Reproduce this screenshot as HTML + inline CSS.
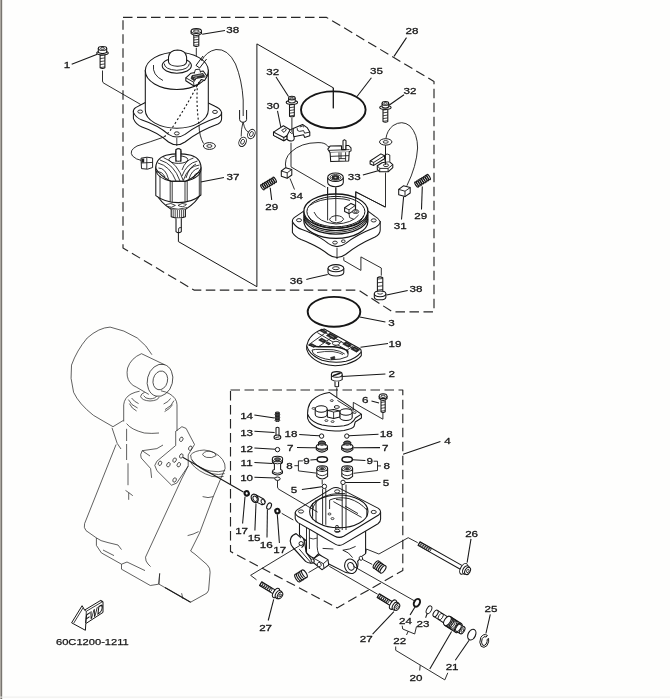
<!DOCTYPE html>
<html><head><meta charset="utf-8"><title>Diagram</title>
<style>html,body{margin:0;padding:0;background:#fefefd;}svg{display:block;font-family:"Liberation Sans",sans-serif;}</style></head>
<body><svg width="670" height="699" viewBox="0 0 670 699" stroke-linecap="butt" stroke-linejoin="round">
<rect x="0" y="0" width="670" height="699" fill="#fefefd"/>
<rect x="0" y="0" width="1" height="699" fill="#aba7a0"/>
<rect x="1" y="0" width="1" height="699" fill="#787570"/>
<rect x="2" y="0" width="1" height="699" fill="#e6e5e1"/>
<rect x="0" y="696.6" width="670" height="1" fill="#ededeb"/>
<g style="opacity:0.999">
<path d="M151.9,354.7 Q147,345.6 137.3,338 Q124,329.6 110.1,327.1 Q99,327.6 87.2,338 Q76.7,350.5 71.5,365.1 Q69.6,378 73.6,392.3 Q79,404 93.4,415.3 Q103,421 113,426.7" fill="none" stroke="#1c1c1c" stroke-width="0.7" />
<ellipse cx="160.0" cy="380.3" rx="12.6" ry="16.3" fill="none" stroke="#1c1c1c" stroke-width="0.7" transform="rotate(14 160.0 380.3)"/>
<ellipse cx="160.3" cy="380.4" rx="7.2" ry="9.5" fill="none" stroke="#1c1c1c" stroke-width="0.7" transform="rotate(14 160.3 380.4)"/>
<path d="M141.5,353.7 L164.5,364.7 M141.5,353.7 Q131,358 127.6,368 Q125.8,377 130,382.5 Q133,386 136.3,387.1 L148.8,394.4" fill="none" stroke="#1c1c1c" stroke-width="0.7" />
<path d="M140.6,396.5 Q142,400.6 150,401 Q158,400.6 159.2,397 M143.6,395.6 Q145,398.6 150,398.9 Q155.4,398.6 156.6,396 M140.6,396.5 Q141,393.6 144.6,392.4" fill="none" stroke="#1c1c1c" stroke-width="0.7" />
<path d="M123.7,404.8 Q124.4,397.6 131,394 Q135,392 139.6,391.2 M161,390.8 Q170.6,392.6 175,398.6 Q177,401.6 177,404.8" fill="none" stroke="#1c1c1c" stroke-width="0.7" />
<path d="M128.4,399.6 Q131,405.4 137.6,408 M129.4,403.6 Q131.6,408.6 136.6,411 M131.6,398 Q134,401.6 138.6,403.6 M174,400.6 Q172,406 165,409.6 M172.6,404.6 Q170,409 164.6,411.6 M170.6,398.4 Q168.6,402 163.6,404" fill="none" stroke="#1c1c1c" stroke-width="0.7" />
<path d="M123.7,404.8 V421.5 M126.6,423.6 Q131,429.6 144.3,433 Q152,433.8 159,433 M177,404.8 V431" fill="none" stroke="#1c1c1c" stroke-width="0.7" />
<path d="M126.6,428.8 V441 M126.6,444 V460 M128,463.3 V485.2 M125.5,490.4 L128.7,492.6 V499.8 M128.7,492.6 L132.8,495.7" fill="none" stroke="#1c1c1c" stroke-width="0.7" />
<path d="M176.1,431 L181.9,426.7 L186.1,428.4 L194.5,444.5 L188.2,454.9 L188.2,466 L176.7,483.1 L171.5,485.2 L156.9,470.6 L154.8,465.4 L156.9,461.2 L175.7,445.5 V431" fill="none" stroke="#1c1c1c" stroke-width="0.7" />
<ellipse cx="181.3" cy="439.3" rx="1.6" ry="2.3" fill="none" stroke="#1c1c1c" stroke-width="0.7" transform="rotate(25 181.3 439.3)"/>
<ellipse cx="190.3" cy="448.2" rx="1.6" ry="2.3" fill="none" stroke="#1c1c1c" stroke-width="0.7" transform="rotate(25 190.3 448.2)"/>
<ellipse cx="181.3" cy="456.0" rx="1.6" ry="2.3" fill="none" stroke="#1c1c1c" stroke-width="0.7" transform="rotate(25 181.3 456.0)"/>
<ellipse cx="174.6" cy="460.1" rx="1.6" ry="2.3" fill="none" stroke="#1c1c1c" stroke-width="0.7" transform="rotate(25 174.6 460.1)"/>
<ellipse cx="168.4" cy="464.7" rx="1.6" ry="2.3" fill="none" stroke="#1c1c1c" stroke-width="0.7" transform="rotate(25 168.4 464.7)"/>
<ellipse cx="160.0" cy="463.3" rx="1.6" ry="2.3" fill="none" stroke="#1c1c1c" stroke-width="0.7" transform="rotate(25 160.0 463.3)"/>
<ellipse cx="178.8" cy="464.7" rx="1.6" ry="2.3" fill="none" stroke="#1c1c1c" stroke-width="0.7" transform="rotate(25 178.8 464.7)"/>
<ellipse cx="174.6" cy="480.0" rx="1.6" ry="2.3" fill="none" stroke="#1c1c1c" stroke-width="0.7" transform="rotate(25 174.6 480.0)"/>
<path d="M113,426.7 L123.4,420.4 M112,427.8 L117.2,443.4 L121,449 M116.1,444.5 L84.6,523.6 Q83.4,527.6 86,530.6 L96.4,537.9 V545.4 L101.4,552.9 L121.5,564.2 V569.2 L150.3,585.5 L158.6,584.2 L159.7,573.4" fill="none" stroke="#1c1c1c" stroke-width="0.7" />
<path d="M96.4,537.9 Q100,541 108,542.6 L118,545 L121.5,549.6 M103,550 L114,555.6" fill="none" stroke="#1c1c1c" stroke-width="0.7" />
<path d="M121.5,564.2 L127,562 L145,570.6" fill="none" stroke="#1c1c1c" stroke-width="0.7" />
<path d="M156.9,448.6 L142.2,450.7 Q139.6,455 141.2,458 L150.6,468.5 L151.6,477.9 M142.2,450.7 L150,456 M156.9,448.6 L163,445" fill="none" stroke="#1c1c1c" stroke-width="0.7" />
<path d="M190.6,455 Q194,450.6 204.1,450 Q216,451 222.6,459.6 Q225.6,464 225.1,468.5 M190.6,455 Q190.4,458.6 193.6,462.4 Q199.6,468.6 210,471 Q219,472.6 225.1,470.6" fill="none" stroke="#1c1c1c" stroke-width="0.7" />
<path d="M191.6,459.6 Q198,468.6 211,473.6 Q219,475.4 224.6,473.6 M190.6,462.6 Q198,472 212,476.4 Q219,477.6 223.6,476.4" fill="none" stroke="#1c1c1c" stroke-width="0.7" />
<path d="M202.6,454.6 Q203.6,451.4 209,451.2 Q215,451.8 216.1,455.6 Q212,458.6 206.6,457.4 Q203.4,456.4 202.6,454.6" fill="none" stroke="#1c1c1c" stroke-width="0.7" />
<path d="M225.1,468.5 L220.6,479 L213.1,497 L199.6,533 L190.6,551 L195,554.2 L207.1,564.7 Q210.4,568 210.1,572.2 L208.6,590.2 Q207.6,593.6 204.1,594.7 L190.6,602.2" fill="none" stroke="#1c1c1c" stroke-width="0.7" />
<path d="M188.2,466 L181.6,479 L145.5,557.2 Q145.4,561.4 148,564 L150.6,566.6" fill="none" stroke="#1c1c1c" stroke-width="0.7" />
<path d="M202.6,496.6 Q208,498.6 213.4,496.6 M187.6,535.6 Q193,534.6 198.6,531.6" fill="none" stroke="#1c1c1c" stroke-width="0.7" />
<path d="M159.7,573.4 L159,584.2 L190.6,602.2 M181.6,593.2 L183,599" fill="none" stroke="#1c1c1c" stroke-width="0.7" />
<path d="M165,587.6 L190.6,602.2" fill="none" stroke="#1c1c1c" stroke-width="1.1" />
<path d="M71.6,622.8 L82.1,605.7 L84.6,610.1 L100.7,600.4 L103,601.6 V612.4 L85.8,623.6 L85.4,630.3 Z" fill="#fff" stroke="#161616" stroke-width="1.0" />
<path d="M83.1,607.8 L73.8,623 M84.6,610.1 L86.3,611.3 L101.6,602.2 L103,601.6 M101.6,602.2 L100.7,600.4 M86.3,611.3 L85.8,623.6" fill="none" stroke="#161616" stroke-width="0.85" />
<text transform="translate(84.4,623.4) skewY(-33) skewX(-8) scale(0.70,1)" font-size="11.4" font-weight="bold" fill="#161616">FWD</text>
<polygon points="123.0,17.4 326.6,17.4 434.0,81.5 434.0,311.8 392.5,311.8 358.5,290.1 194.0,290.1 123.0,248.0" fill="none" stroke="#262626" stroke-width="1.15" stroke-dasharray="9.5,4.5"/>
<polygon points="230.5,390.0 402.8,390.0 402.8,570.4 337.1,607.9 230.5,551.5" fill="none" stroke="#262626" stroke-width="1.15" stroke-dasharray="9.5,4.5"/>
<polyline points="256.9,286.7 256.9,43.9 333.3,87.8 333.3,108.3" fill="none" stroke="#161616" stroke-width="1.0"/>
<polyline points="178.4,233.0 178.4,241.6 256.9,286.7" fill="none" stroke="#161616" stroke-width="1.0"/>
<text transform="translate(67.0,68.1) scale(1.27,1)" text-anchor="middle" font-size="9.15" fill="#161616" stroke="#161616" stroke-width="0.28">1</text>
<text transform="translate(232.8,32.5) scale(1.27,1)" text-anchor="middle" font-size="9.15" fill="#161616" stroke="#161616" stroke-width="0.28">38</text>
<text transform="translate(412.0,34.1) scale(1.27,1)" text-anchor="middle" font-size="9.15" fill="#161616" stroke="#161616" stroke-width="0.28">28</text>
<text transform="translate(376.4,74.0) scale(1.27,1)" text-anchor="middle" font-size="9.15" fill="#161616" stroke="#161616" stroke-width="0.28">35</text>
<text transform="translate(410.0,94.1) scale(1.27,1)" text-anchor="middle" font-size="9.15" fill="#161616" stroke="#161616" stroke-width="0.28">32</text>
<text transform="translate(272.8,74.5) scale(1.27,1)" text-anchor="middle" font-size="9.15" fill="#161616" stroke="#161616" stroke-width="0.28">32</text>
<text transform="translate(273.0,109.0) scale(1.27,1)" text-anchor="middle" font-size="9.15" fill="#161616" stroke="#161616" stroke-width="0.28">30</text>
<text transform="translate(232.9,180.4) scale(1.27,1)" text-anchor="middle" font-size="9.15" fill="#161616" stroke="#161616" stroke-width="0.28">37</text>
<text transform="translate(271.7,209.8) scale(1.27,1)" text-anchor="middle" font-size="9.15" fill="#161616" stroke="#161616" stroke-width="0.28">29</text>
<text transform="translate(296.5,199.0) scale(1.27,1)" text-anchor="middle" font-size="9.15" fill="#161616" stroke="#161616" stroke-width="0.28">34</text>
<text transform="translate(354.3,179.6) scale(1.27,1)" text-anchor="middle" font-size="9.15" fill="#161616" stroke="#161616" stroke-width="0.28">33</text>
<text transform="translate(400.2,229.3) scale(1.27,1)" text-anchor="middle" font-size="9.15" fill="#161616" stroke="#161616" stroke-width="0.28">31</text>
<text transform="translate(420.8,219.0) scale(1.27,1)" text-anchor="middle" font-size="9.15" fill="#161616" stroke="#161616" stroke-width="0.28">29</text>
<text transform="translate(296.2,283.5) scale(1.27,1)" text-anchor="middle" font-size="9.15" fill="#161616" stroke="#161616" stroke-width="0.28">36</text>
<text transform="translate(416.0,292.0) scale(1.27,1)" text-anchor="middle" font-size="9.15" fill="#161616" stroke="#161616" stroke-width="0.28">38</text>
<text transform="translate(391.6,326.3) scale(1.27,1)" text-anchor="middle" font-size="9.15" fill="#161616" stroke="#161616" stroke-width="0.28">3</text>
<text transform="translate(395.0,346.7) scale(1.27,1)" text-anchor="middle" font-size="9.15" fill="#161616" stroke="#161616" stroke-width="0.28">19</text>
<text transform="translate(391.7,376.6) scale(1.27,1)" text-anchor="middle" font-size="9.15" fill="#161616" stroke="#161616" stroke-width="0.28">2</text>
<text transform="translate(365.3,403.2) scale(1.27,1)" text-anchor="middle" font-size="9.15" fill="#161616" stroke="#161616" stroke-width="0.28">6</text>
<text transform="translate(246.6,418.5) scale(1.27,1)" text-anchor="middle" font-size="9.15" fill="#161616" stroke="#161616" stroke-width="0.28">14</text>
<text transform="translate(246.6,435.7) scale(1.27,1)" text-anchor="middle" font-size="9.15" fill="#161616" stroke="#161616" stroke-width="0.28">13</text>
<text transform="translate(246.6,451.8) scale(1.27,1)" text-anchor="middle" font-size="9.15" fill="#161616" stroke="#161616" stroke-width="0.28">12</text>
<text transform="translate(246.6,466.0) scale(1.27,1)" text-anchor="middle" font-size="9.15" fill="#161616" stroke="#161616" stroke-width="0.28">11</text>
<text transform="translate(246.6,480.9) scale(1.27,1)" text-anchor="middle" font-size="9.15" fill="#161616" stroke="#161616" stroke-width="0.28">10</text>
<text transform="translate(291.0,436.9) scale(1.27,1)" text-anchor="middle" font-size="9.15" fill="#161616" stroke="#161616" stroke-width="0.28">18</text>
<text transform="translate(290.2,450.8) scale(1.27,1)" text-anchor="middle" font-size="9.15" fill="#161616" stroke="#161616" stroke-width="0.28">7</text>
<text transform="translate(306.6,463.7) scale(1.27,1)" text-anchor="middle" font-size="9.15" fill="#161616" stroke="#161616" stroke-width="0.28">9</text>
<text transform="translate(289.5,469.0) scale(1.27,1)" text-anchor="middle" font-size="9.15" fill="#161616" stroke="#161616" stroke-width="0.28">8</text>
<text transform="translate(294.0,492.6) scale(1.27,1)" text-anchor="middle" font-size="9.15" fill="#161616" stroke="#161616" stroke-width="0.28">5</text>
<text transform="translate(386.3,437.3) scale(1.27,1)" text-anchor="middle" font-size="9.15" fill="#161616" stroke="#161616" stroke-width="0.28">18</text>
<text transform="translate(385.2,450.8) scale(1.27,1)" text-anchor="middle" font-size="9.15" fill="#161616" stroke="#161616" stroke-width="0.28">7</text>
<text transform="translate(369.7,463.9) scale(1.27,1)" text-anchor="middle" font-size="9.15" fill="#161616" stroke="#161616" stroke-width="0.28">9</text>
<text transform="translate(386.7,469.4) scale(1.27,1)" text-anchor="middle" font-size="9.15" fill="#161616" stroke="#161616" stroke-width="0.28">8</text>
<text transform="translate(386.0,486.1) scale(1.27,1)" text-anchor="middle" font-size="9.15" fill="#161616" stroke="#161616" stroke-width="0.28">5</text>
<text transform="translate(447.5,443.7) scale(1.27,1)" text-anchor="middle" font-size="9.15" fill="#161616" stroke="#161616" stroke-width="0.28">4</text>
<text transform="translate(241.6,533.7) scale(1.27,1)" text-anchor="middle" font-size="9.15" fill="#161616" stroke="#161616" stroke-width="0.28">17</text>
<text transform="translate(254.1,540.7) scale(1.27,1)" text-anchor="middle" font-size="9.15" fill="#161616" stroke="#161616" stroke-width="0.28">15</text>
<text transform="translate(266.2,547.5) scale(1.27,1)" text-anchor="middle" font-size="9.15" fill="#161616" stroke="#161616" stroke-width="0.28">16</text>
<text transform="translate(279.7,553.0) scale(1.27,1)" text-anchor="middle" font-size="9.15" fill="#161616" stroke="#161616" stroke-width="0.28">17</text>
<text transform="translate(265.6,630.8) scale(1.27,1)" text-anchor="middle" font-size="9.15" fill="#161616" stroke="#161616" stroke-width="0.28">27</text>
<text transform="translate(366.3,641.6) scale(1.27,1)" text-anchor="middle" font-size="9.15" fill="#161616" stroke="#161616" stroke-width="0.28">27</text>
<text transform="translate(471.6,536.5) scale(1.27,1)" text-anchor="middle" font-size="9.15" fill="#161616" stroke="#161616" stroke-width="0.28">26</text>
<text transform="translate(405.5,623.5) scale(1.27,1)" text-anchor="middle" font-size="9.15" fill="#161616" stroke="#161616" stroke-width="0.28">24</text>
<text transform="translate(423.0,626.8) scale(1.27,1)" text-anchor="middle" font-size="9.15" fill="#161616" stroke="#161616" stroke-width="0.28">23</text>
<text transform="translate(399.7,643.9) scale(1.27,1)" text-anchor="middle" font-size="9.15" fill="#161616" stroke="#161616" stroke-width="0.28">22</text>
<text transform="translate(491.0,611.6) scale(1.27,1)" text-anchor="middle" font-size="9.15" fill="#161616" stroke="#161616" stroke-width="0.28">25</text>
<text transform="translate(452.1,669.9) scale(1.27,1)" text-anchor="middle" font-size="9.15" fill="#161616" stroke="#161616" stroke-width="0.28">21</text>
<text transform="translate(416.0,680.7) scale(1.27,1)" text-anchor="middle" font-size="9.15" fill="#161616" stroke="#161616" stroke-width="0.28">20</text>
<text x="56" y="645.3" font-size="8.8" textLength="72.8" lengthAdjust="spacingAndGlyphs" fill="#161616" stroke="#161616" stroke-width="0.25">60C1200-1211</text>
<polyline points="71.7,64.3 97.3,54.3" fill="none" stroke="#161616" stroke-width="1.05"/>
<polyline points="225.0,30.5 202.2,34.2" fill="none" stroke="#161616" stroke-width="1.05"/>
<polyline points="406.5,37.6 394.0,56.4" fill="none" stroke="#161616" stroke-width="1.05"/>
<polyline points="371.4,77.7 357.0,96.5" fill="none" stroke="#161616" stroke-width="1.05"/>
<polyline points="404.0,94.8 389.0,105.3" fill="none" stroke="#161616" stroke-width="1.05"/>
<polyline points="276.0,77.0 288.5,96.5" fill="none" stroke="#161616" stroke-width="1.05"/>
<polyline points="277.5,110.8 280.8,127.0" fill="none" stroke="#161616" stroke-width="1.05"/>
<polyline points="224.0,177.6 200.6,181.9" fill="none" stroke="#161616" stroke-width="1.05"/>
<polyline points="270.2,187.8 271.7,200.0" fill="none" stroke="#161616" stroke-width="1.05"/>
<polyline points="362.9,175.0 379.0,170.6" fill="none" stroke="#161616" stroke-width="1.05"/>
<polyline points="403.6,196.6 401.5,219.5" fill="none" stroke="#161616" stroke-width="1.05"/>
<polyline points="422.3,186.5 421.5,209.5" fill="none" stroke="#161616" stroke-width="1.05"/>
<polyline points="306.3,279.4 327.7,274.5" fill="none" stroke="#161616" stroke-width="1.05"/>
<polyline points="407.7,290.4 386.6,295.0" fill="none" stroke="#161616" stroke-width="1.05"/>
<polyline points="385.4,322.1 359.8,317.1" fill="none" stroke="#161616" stroke-width="1.05"/>
<polyline points="388.0,343.4 360.5,347.2" fill="none" stroke="#161616" stroke-width="1.05"/>
<polyline points="385.4,374.0 341.8,376.5" fill="none" stroke="#161616" stroke-width="1.05"/>
<polyline points="371.5,401.0 379.0,403.0" fill="none" stroke="#161616" stroke-width="1.05"/>
<polyline points="254.4,414.9 274.6,417.9" fill="none" stroke="#161616" stroke-width="1.05"/>
<polyline points="254.4,431.3 274.6,432.5" fill="none" stroke="#161616" stroke-width="1.05"/>
<polyline points="254.4,448.1 275.5,449.3" fill="none" stroke="#161616" stroke-width="1.05"/>
<polyline points="254.4,462.4 272.5,463.4" fill="none" stroke="#161616" stroke-width="1.05"/>
<polyline points="254.4,477.2 275.2,478.1" fill="none" stroke="#161616" stroke-width="1.05"/>
<polyline points="299.2,434.6 319.4,435.8" fill="none" stroke="#161616" stroke-width="1.05"/>
<polyline points="297.0,447.5 316.3,447.8" fill="none" stroke="#161616" stroke-width="1.05"/>
<polyline points="310.4,460.0 316.8,459.4" fill="none" stroke="#161616" stroke-width="1.05"/>
<polyline points="301.9,489.6 323.3,486.6" fill="none" stroke="#161616" stroke-width="1.05"/>
<polyline points="378.5,434.3 349.0,435.8" fill="none" stroke="#161616" stroke-width="1.05"/>
<polyline points="380.0,447.6 353.4,447.8" fill="none" stroke="#161616" stroke-width="1.05"/>
<polyline points="365.4,460.6 352.5,459.7" fill="none" stroke="#161616" stroke-width="1.05"/>
<polyline points="380.5,482.5 345.0,482.5" fill="none" stroke="#161616" stroke-width="1.05"/>
<polyline points="440.4,441.5 403.1,454.2" fill="none" stroke="#161616" stroke-width="1.05"/>
<polyline points="245.0,496.8 242.6,523.5" fill="none" stroke="#161616" stroke-width="1.05"/>
<polyline points="256.0,503.4 254.9,530.5" fill="none" stroke="#161616" stroke-width="1.05"/>
<polyline points="267.4,509.4 267.0,537.5" fill="none" stroke="#161616" stroke-width="1.05"/>
<polyline points="277.3,514.4 279.4,543.0" fill="none" stroke="#161616" stroke-width="1.05"/>
<polyline points="268.2,620.5 273.7,599.3" fill="none" stroke="#161616" stroke-width="1.05"/>
<polyline points="372.6,634.2 393.9,611.7" fill="none" stroke="#161616" stroke-width="1.05"/>
<polyline points="471.0,538.8 467.1,562.7" fill="none" stroke="#161616" stroke-width="1.05"/>
<polyline points="410.1,614.9 415.0,607.0" fill="none" stroke="#161616" stroke-width="1.05"/>
<polyline points="425.6,617.8 427.1,613.8" fill="none" stroke="#161616" stroke-width="1.05"/>
<polyline points="490.3,614.3 485.9,633.5" fill="none" stroke="#161616" stroke-width="1.05"/>
<polyline points="455.3,660.3 469.1,640.2" fill="none" stroke="#161616" stroke-width="1.05"/>
<polyline points="451.6,631.5 429.8,669.0" fill="none" stroke="#161616" stroke-width="1.05"/>
<polyline points="286.0,230.5 286.0,230.5" fill="none" stroke="#161616" stroke-width="1.05"/>
<polyline points="290.0,178.5 294.5,189.5" fill="none" stroke="#161616" stroke-width="0.9"/>
<polyline points="294.4,465.7 298.4,465.7" fill="none" stroke="#161616" stroke-width="0.9"/>
<polyline points="302.9,460.9 298.4,460.9 298.4,470.9 316.3,473.1" fill="none" stroke="#161616" stroke-width="0.9"/>
<polyline points="381.0,465.9 377.5,465.9" fill="none" stroke="#161616" stroke-width="0.9"/>
<polyline points="373.6,461.2 377.5,461.2 377.5,470.5 353.5,473.3" fill="none" stroke="#161616" stroke-width="0.9"/>
<polyline points="402.2,625.7 402.7,629.0 414.7,634.0 416.5,626.4" fill="none" stroke="#161616" stroke-width="0.9"/>
<polyline points="408.2,631.3 406.5,635.0" fill="none" stroke="#161616" stroke-width="0.9"/>
<polyline points="395.7,646.5 395.7,650.3 444.8,679.9 447.8,672.8" fill="none" stroke="#161616" stroke-width="0.9"/>
<polyline points="420.2,665.2 419.7,670.5" fill="none" stroke="#161616" stroke-width="0.9"/>
<path d="M100.1,54.1 V67.8 Q102.5,69.2 104.9,67.8 V54.1" fill="#fff" stroke="#161616" stroke-width="1.05" />
<polyline points="100.1,55.6 104.9,54.9" fill="none" stroke="#161616" stroke-width="0.8"/>
<polyline points="100.1,58.6 104.9,57.9" fill="none" stroke="#161616" stroke-width="0.8"/>
<polyline points="100.1,61.6 104.9,60.9" fill="none" stroke="#161616" stroke-width="0.8"/>
<polyline points="100.1,64.6 104.9,63.9" fill="none" stroke="#161616" stroke-width="0.8"/>
<polyline points="100.1,67.6 104.9,66.9" fill="none" stroke="#161616" stroke-width="0.8"/>
<ellipse cx="102.5" cy="53.1" rx="5.8" ry="1.9" fill="#fff" stroke="#161616" stroke-width="1.05"/>
<path d="M98.3,48.2 V52.5 Q102.5,54.7 106.7,52.5 V48.2" fill="#fff" stroke="#161616" stroke-width="1.05" />
<ellipse cx="102.5" cy="48.4" rx="4.2" ry="1.9" fill="#fff" stroke="#161616" stroke-width="1.05"/>
<ellipse cx="102.5" cy="48.4" rx="2.1" ry="0.9" fill="#fff" stroke="#161616" stroke-width="0.8"/>
<path d="M102.5,70.5 V81 Q102.5,82.6 104,83.3 L140.4,104.3 V110" fill="none" stroke="#161616" stroke-width="0.9" />
<polyline points="141.8,105.2 141.8,110.0" fill="none" stroke="#161616" stroke-width="0.8"/>
<path d="M193.8,35.1 V45.9 Q196.3,47.3 198.8,45.9 V35.1" fill="#fff" stroke="#161616" stroke-width="1.05" />
<polyline points="193.8,37.3 198.8,36.7" fill="none" stroke="#161616" stroke-width="0.8"/>
<polyline points="193.8,40.0 198.8,39.4" fill="none" stroke="#161616" stroke-width="0.8"/>
<polyline points="193.8,42.6 198.8,42.0" fill="none" stroke="#161616" stroke-width="0.8"/>
<polyline points="193.8,45.3 198.8,44.7" fill="none" stroke="#161616" stroke-width="0.8"/>
<path d="M191.1,30.8 V33.6 Q196.3,37.3 201.5,33.6 V30.8" fill="#fff" stroke="#161616" stroke-width="1.05" />
<ellipse cx="196.3" cy="31.0" rx="5.2" ry="2.4" fill="#fff" stroke="#161616" stroke-width="1.05"/>
<ellipse cx="196.3" cy="31.1" rx="2.9" ry="1.2" fill="#fff" stroke="#161616" stroke-width="0.9"/>
<polyline points="196.3,48.0 196.3,60.0" fill="none" stroke="#161616" stroke-width="0.9"/>
<path d="M133.4,111.5 V118.6 Q136,124.8 142,126.9 Q158,132.3 168.5,142 Q176.8,147.6 185,142 Q199,130.8 218,124 Q221.8,121.7 221.6,118.2 V112" fill="#fff" stroke="#161616" stroke-width="1.05" />
<path d="M145.3,102.5 L135.6,107.6 Q132.8,109.5 133.4,112.4 Q136,118 142,120 Q158,125.2 168.5,134.4 Q176.8,139.6 185,134.4 Q199,123.5 218,117.2 Q222.4,114.8 221.3,111.6 Q220,108.6 215,106.3 L208.3,103 Z" fill="#fff" stroke="#161616" stroke-width="1.05" />
<polyline points="176.8,138.0 176.8,146.0" fill="none" stroke="#161616" stroke-width="0.8"/>
<ellipse cx="140.2" cy="111.6" rx="2.4" ry="1.6" fill="#fff" stroke="#161616" stroke-width="0.9"/>
<ellipse cx="176.8" cy="133.4" rx="2.4" ry="1.6" fill="#fff" stroke="#161616" stroke-width="0.9"/>
<ellipse cx="215.0" cy="111.9" rx="2.4" ry="1.6" fill="#fff" stroke="#161616" stroke-width="0.9"/>
<path d="M145.3,70 V110 A31.5,18.2 0 0 0 208.3,110 V70 Z" fill="#fff" stroke="#161616" stroke-width="1.05" />
<ellipse cx="176.8" cy="70.8" rx="31.5" ry="18.6" fill="#fff" stroke="#161616" stroke-width="1.05"/>
<path d="M153.5,65 Q152,75 163,80.5" fill="none" stroke="#161616" stroke-width="0.9" />
<ellipse cx="176.8" cy="65.6" rx="14.6" ry="7.6" fill="#fff" stroke="#161616" stroke-width="1.05"/>
<path d="M164.2,63.5 Q164.6,69.6 176.8,70.3 Q189,69.6 189.4,63.5" fill="none" stroke="#161616" stroke-width="0.9" />
<path d="M168.5,62 V57 Q169.5,50.2 177.5,50 Q185.6,50.2 186.6,57 V62 Q186,66 177.5,66.2 Q169.2,66 168.5,62 Z" fill="#fff" stroke="#161616" stroke-width="1.05" />
<path d="M185.8,77.8 L191,73.2 L203.2,71 L207,76.2 L204.6,80.6 L201.2,79.6 L198,84.2 L194,86 L185.8,80.8 Z" fill="#fff" stroke="#161616" stroke-width="1.05" />
<path d="M185.8,77.8 L193.6,82.2 L196.2,78.4 L205.6,76.8 M193.6,82.2 L194,86" fill="none" stroke="#161616" stroke-width="0.9" />
<polyline points="194.2,73.6 195.4,69.6 199.6,69.2 200.6,72.6" fill="#fff" stroke="#161616" stroke-width="0.9"/>
<path d="M192,75.6 L203,73.4 L204.6,76.2 L196,78 L194,80.6 L191,78.6 Z" fill="#333" stroke="#161616" stroke-width="0.7" />
<path d="M193,76.6 L202.6,74.6 M194,78.6 L197,77" fill="none" stroke="#ddd" stroke-width="0.6" />
<path d="M196,65.4 L203,56 M199.6,68 L206.6,59 M196,65.4 L199.6,68" fill="none" stroke="#161616" stroke-width="1.0" />
<path d="M201.5,61 Q206,51.5 216,49.5 Q228,48.5 235.5,64 Q242,80 243.2,100 V116" fill="none" stroke="#161616" stroke-width="0.9" />
<path d="M239.6,110 V119.5 Q239.8,121.8 242,122.2 H244 Q246.4,121.8 246.6,119.5 V110" fill="none" stroke="#161616" stroke-width="1.0" />
<path d="M242.9,122.4 Q241,130 241.2,136.5 M243.2,122.4 Q245,131 248.2,131.8" fill="none" stroke="#161616" stroke-width="0.85" />
<ellipse cx="242.6" cy="141.8" rx="3.5" ry="4.9" fill="#fff" stroke="#161616" stroke-width="0.9" transform="rotate(25 242.6 141.8)"/>
<ellipse cx="242.6" cy="141.8" rx="1.7" ry="2.6" fill="#fff" stroke="#161616" stroke-width="0.8" transform="rotate(25 242.6 141.8)"/>
<ellipse cx="251.4" cy="134.0" rx="3.5" ry="4.9" fill="#fff" stroke="#161616" stroke-width="0.9" transform="rotate(25 251.4 134.0)"/>
<ellipse cx="251.4" cy="134.0" rx="1.7" ry="2.6" fill="#fff" stroke="#161616" stroke-width="0.8" transform="rotate(25 251.4 134.0)"/>
<path d="M199,82 Q190,100 176,122 Q170,132 164,137" fill="none" stroke="#161616" stroke-width="1.1" stroke-dasharray="2,2.2" />
<path d="M197.5,84 Q196,105 199,125" fill="none" stroke="#161616" stroke-width="1.1" stroke-dasharray="2,2.2" />
<path d="M164,137 Q150,142 137,146 Q128.5,150.5 132.5,156 Q136,159.5 141.5,160.5" fill="none" stroke="#161616" stroke-width="0.9" />
<path d="M199,125 Q199.2,136 203.5,143.5" fill="none" stroke="#161616" stroke-width="0.9" />
<ellipse cx="209.4" cy="146.0" rx="6.0" ry="3.4" fill="#fff" stroke="#161616" stroke-width="0.95"/>
<ellipse cx="209.4" cy="146.0" rx="2.6" ry="1.4" fill="#fff" stroke="#161616" stroke-width="0.85"/>
<polygon points="141.0,158.2 147.0,157.2 152.6,158.0 152.6,167.5 147.5,169.2 141.5,168.6" fill="#fff" stroke="#161616" stroke-width="0.95"/>
<polyline points="146.8,157.4 146.8,169.0" fill="none" stroke="#161616" stroke-width="0.85"/>
<polyline points="141.2,163.0 152.6,162.4" fill="none" stroke="#161616" stroke-width="0.85"/>
<rect x="141.6" y="158.6" width="2.6" height="4" fill="#222"/>
<path d="M176,162 V149.6 Q178.4,148 180.8,149.6 V162" fill="#fff" stroke="#161616" stroke-width="1.05" />
<path d="M156.5,194 Q160,202 171.5,209.6 H185.2 Q197,202 200.4,194 Z" fill="#fff" stroke="#161616" stroke-width="1.05" />
<path d="M166,204.6 Q171,202 175.4,205.4 Q171.4,208.6 167.6,206.4 M178,205.4 Q182,202 186.5,204.4 Q183,208.4 178,205.4 M170,208 Q178,210.6 187,207.6" fill="none" stroke="#161616" stroke-width="0.8" />
<path d="M155.8,167 V195.6 Q165,202.6 178.4,202.6 Q192,202.6 200.9,195 V167 Z" fill="#fff" stroke="#161616" stroke-width="1.05" />
<path d="M155.8,170 Q155,158.5 166,155.3 Q178.4,152.4 191,155.3 Q202,158.5 200.9,170 Q200,178 185.5,181.2 H171 Q157,178 155.8,170 Z" fill="#fff" stroke="#161616" stroke-width="1.05" />
<ellipse cx="178.4" cy="159.6" rx="9.5" ry="3.8" fill="#fff" stroke="#161616" stroke-width="0.9"/>
<path d="M176,162 V151 M180.8,162 V151" fill="none" stroke="#161616" stroke-width="1.05" />
<path d="M176,149.6 Q178.4,148 180.8,149.6 V160.6 Q178.4,162 176,160.6 Z" fill="#fff" stroke="#161616" stroke-width="1.05" />
<path d="M158,163 Q170,166 176,181" fill="none" stroke="#161616" stroke-width="0.85" />
<path d="M160,160 Q174,164 180,181" fill="none" stroke="#161616" stroke-width="0.85" />
<path d="M163.5,157.6 Q178,163 183.4,181" fill="none" stroke="#161616" stroke-width="0.85" />
<path d="M199.5,165 Q188,166 183.5,180" fill="none" stroke="#161616" stroke-width="0.85" />
<path d="M197.5,161 Q186.5,163.5 182,176" fill="none" stroke="#161616" stroke-width="0.85" />
<path d="M193.5,158 Q185.5,160 182,170" fill="none" stroke="#161616" stroke-width="0.85" />
<path d="M157,172 Q162,171 165,177" fill="none" stroke="#161616" stroke-width="0.85" />
<path d="M158.5,168 Q165.5,168 168.5,179" fill="none" stroke="#161616" stroke-width="0.85" />
<path d="M186,178 Q189,167 196,164" fill="none" stroke="#161616" stroke-width="0.85" />
<path d="M189,179 Q191.5,170 198.8,168" fill="none" stroke="#161616" stroke-width="0.85" />
<path d="M193,178 Q194.5,173 199.8,172" fill="none" stroke="#161616" stroke-width="0.85" />
<path d="M155.8,168.5 Q160,176 171,181.3 H185.5 Q197,176.5 200.9,168.5" fill="none" stroke="#161616" stroke-width="1.05" />
<polyline points="160.0,176.0 160.0,198.6" fill="none" stroke="#161616" stroke-width="0.85"/>
<polyline points="170.2,181.2 170.2,201.8" fill="none" stroke="#161616" stroke-width="0.85"/>
<polyline points="172.2,181.3 172.2,202.2" fill="none" stroke="#161616" stroke-width="0.85"/>
<polyline points="185.0,181.3 185.0,202.2" fill="none" stroke="#161616" stroke-width="0.85"/>
<polyline points="187.2,181.0 187.2,201.8" fill="none" stroke="#161616" stroke-width="0.85"/>
<polyline points="199.3,172.0 199.3,196.4" fill="none" stroke="#161616" stroke-width="0.85"/>
<path d="M171.2,209.6 V216.8 Q178.4,219.4 185.4,216.8 V209.6" fill="#fff" stroke="#161616" stroke-width="1.05" />
<polyline points="173.2,210.0 173.2,217.6" fill="none" stroke="#161616" stroke-width="0.75"/>
<polyline points="175.2,210.0 175.2,217.6" fill="none" stroke="#161616" stroke-width="0.75"/>
<polyline points="177.4,210.0 177.4,217.6" fill="none" stroke="#161616" stroke-width="0.75"/>
<polyline points="179.6,210.0 179.6,217.6" fill="none" stroke="#161616" stroke-width="0.75"/>
<polyline points="181.6,210.0 181.6,217.6" fill="none" stroke="#161616" stroke-width="0.75"/>
<polyline points="183.6,210.0 183.6,217.6" fill="none" stroke="#161616" stroke-width="0.75"/>
<path d="M176,218.3 V231.6 Q178.6,234 181.3,231.6 V218.3" fill="#fff" stroke="#161616" stroke-width="1.05" />
<path d="M178.6,233 V229 Q178.6,227.6 180,227.6 H181.3" fill="none" stroke="#161616" stroke-width="0.85" />
<ellipse cx="333.3" cy="109.8" rx="32.3" ry="18.4" fill="none" stroke="#161616" stroke-width="1.9"/>
<polyline points="333.3,87.8 333.3,108.3" fill="none" stroke="#161616" stroke-width="1.0"/>
<path d="M289.5,103.5 V116.2 Q291.9,117.6 294.3,116.2 V103.5" fill="#fff" stroke="#161616" stroke-width="1.05" />
<polyline points="289.5,105.0 294.3,104.3" fill="none" stroke="#161616" stroke-width="0.8"/>
<polyline points="289.5,107.7 294.3,107.0" fill="none" stroke="#161616" stroke-width="0.8"/>
<polyline points="289.5,110.5 294.3,109.8" fill="none" stroke="#161616" stroke-width="0.8"/>
<polyline points="289.5,113.2 294.3,112.5" fill="none" stroke="#161616" stroke-width="0.8"/>
<polyline points="289.5,116.0 294.3,115.3" fill="none" stroke="#161616" stroke-width="0.8"/>
<ellipse cx="291.9" cy="102.5" rx="5.7" ry="1.9" fill="#fff" stroke="#161616" stroke-width="1.05"/>
<path d="M288.6,97.9 V101.9 Q291.9,104.1 295.2,101.9 V97.9" fill="#fff" stroke="#161616" stroke-width="1.05" />
<ellipse cx="291.9" cy="98.1" rx="3.3" ry="1.9" fill="#fff" stroke="#161616" stroke-width="1.05"/>
<ellipse cx="291.9" cy="98.1" rx="1.6" ry="0.9" fill="#fff" stroke="#161616" stroke-width="0.8"/>
<polyline points="291.9,118.0 291.9,132.2" fill="none" stroke="#161616" stroke-width="0.9"/>
<path d="M273.5,132.1 L283.4,125.8 L290.1,129.8 L286.9,135.7 L283.8,137.5 Z" fill="#fff" stroke="#161616" stroke-width="1.05" />
<path d="M273.5,132.1 V135.4 L283.8,140.8 L286.9,138.9 V135.7 M283.8,137.5 V140.8" fill="#fff" stroke="#161616" stroke-width="1.05" />
<path d="M273.5,132.1 V135.4 L283.8,140.8 L286.9,138.9 V135.7 L283.8,137.5 Z" fill="#fff" stroke="#161616" stroke-width="1.05" />
<polyline points="283.8,137.5 283.8,140.8" fill="none" stroke="#161616" stroke-width="0.9"/>
<path d="M281.6,130.4 L284.8,128.4 L286.4,129.6 L284,132.4 Z" fill="#fff" stroke="#161616" stroke-width="0.9" />
<path d="M286.9,138.9 Q288,141 291.5,141 Q295,140.4 294,137" fill="#fff" stroke="#161616" stroke-width="1.05" />
<path d="M293.2,128.5 L302.6,124.5 L307.1,127.6 L309.8,132.1 V135.7 L304.6,137.4 L303.6,134.8 L293.8,136.7 L293.2,132.8 Z" fill="#fff" stroke="#161616" stroke-width="1.05" />
<path d="M297.2,128.2 Q296.5,131 299.5,131.4 L303.6,130.6 L304.6,133.2 L309.8,132.1 M299.8,127 L302.4,126 L304,127.2" fill="none" stroke="#161616" stroke-width="0.9" />
<path d="M290.1,129.8 L293.2,128.5 M289.6,131.6 L291.4,133.4 L293.2,132.8" fill="none" stroke="#161616" stroke-width="0.9" />
<polyline points="291.0,142.8 291.0,166.9 325.6,187.0" fill="none" stroke="#161616" stroke-width="0.9"/>
<path d="M286,168.6 Q283.6,159 291,152 Q301,142.6 318,142.6 Q325,142.4 327.6,146 L330,147.6" fill="none" stroke="#161616" stroke-width="0.9" />
<polygon points="281.3,171.0 285.6,167.7 291.8,169.4 291.8,175.0 287.2,178.2 281.3,176.2" fill="#fff" stroke="#161616" stroke-width="1.05"/>
<polyline points="281.3,171.0 287.2,172.8 291.8,169.4" fill="none" stroke="#161616" stroke-width="0.9"/>
<polyline points="287.2,172.8 287.2,178.2" fill="none" stroke="#161616" stroke-width="0.9"/>
<ellipse cx="262.5" cy="187.2" rx="1.0" ry="3.0" fill="#fff" stroke="#161616" stroke-width="1.2" transform="rotate(-31.448715273053512 262.5 187.2)"/>
<ellipse cx="264.2" cy="186.1" rx="1.0" ry="3.0" fill="#fff" stroke="#161616" stroke-width="1.2" transform="rotate(-31.448715273053512 264.2 186.1)"/>
<ellipse cx="266.0" cy="185.1" rx="1.0" ry="3.0" fill="#fff" stroke="#161616" stroke-width="1.2" transform="rotate(-31.448715273053512 266.0 185.1)"/>
<ellipse cx="267.7" cy="184.0" rx="1.0" ry="3.0" fill="#fff" stroke="#161616" stroke-width="1.2" transform="rotate(-31.448715273053512 267.7 184.0)"/>
<ellipse cx="269.4" cy="183.0" rx="1.0" ry="3.0" fill="#fff" stroke="#161616" stroke-width="1.2" transform="rotate(-31.448715273053512 269.4 183.0)"/>
<ellipse cx="271.1" cy="181.9" rx="1.0" ry="3.0" fill="#fff" stroke="#161616" stroke-width="1.2" transform="rotate(-31.448715273053512 271.1 181.9)"/>
<ellipse cx="272.9" cy="180.9" rx="1.0" ry="3.0" fill="#fff" stroke="#161616" stroke-width="1.2" transform="rotate(-31.448715273053512 272.9 180.9)"/>
<ellipse cx="274.6" cy="179.8" rx="1.0" ry="3.0" fill="#fff" stroke="#161616" stroke-width="1.2" transform="rotate(-31.448715273053512 274.6 179.8)"/>
<path d="M343,149.6 V140.6 L344.4,139.8 L346,140.6 V149.6 Z" fill="#fff" stroke="#161616" stroke-width="1.05" />
<path d="M327.8,149.1 L330.1,146.1 L341.5,145.7 V149.6 L346,149.6 V145.6 L348.7,145.5 L351,147.9 V150.9 L348.7,152 L330.1,152.6 Z" fill="#fff" stroke="#161616" stroke-width="1.05" />
<path d="M330.1,152.6 L330.7,161.6 L348.7,161 L349.2,152" fill="#fff" stroke="#161616" stroke-width="1.05" />
<path d="M330.4,156.4 L349,155.6 M339,152.4 V161.2 M341,152.4 V158.6 M345.6,152.2 V161 M339,158.6 H345.6" fill="none" stroke="#161616" stroke-width="0.85" />
<path d="M329,150.4 L349.5,149.6" fill="none" stroke="#161616" stroke-width="0.85" />
<path d="M327.7,177.2 V182.6 A7.8,4.2 0 0 0 343.3,182.6 V177.2" fill="#fff" stroke="#161616" stroke-width="1.05" />
<ellipse cx="335.5" cy="177.2" rx="7.8" ry="4.2" fill="#fff" stroke="#161616" stroke-width="1.05"/>
<ellipse cx="335.5" cy="177.4" rx="5.4" ry="2.8" fill="#fff" stroke="#161616" stroke-width="0.9"/>
<ellipse cx="335.5" cy="177.5" rx="3.6" ry="1.9" fill="#333" stroke="#161616" stroke-width="0.9"/>
<ellipse cx="335.5" cy="177.6" rx="1.4" ry="0.8" fill="#fff" stroke="#161616" stroke-width="0.6"/>
<polyline points="327.6,187.0 327.6,220.0" fill="none" stroke="#161616" stroke-width="0.9"/>
<polyline points="335.8,187.4 335.8,220.0" fill="none" stroke="#161616" stroke-width="0.9"/>
<ellipse cx="385.7" cy="141.9" rx="6.2" ry="3.2" fill="#fff" stroke="#161616" stroke-width="0.95"/>
<ellipse cx="385.7" cy="141.9" rx="2.6" ry="1.3" fill="#fff" stroke="#161616" stroke-width="0.85"/>
<path d="M385.9,138.6 Q387,130.5 393,125.6 Q402,119.6 410,126 Q417.6,134 417.6,148 Q416.6,166 406.9,185.7" fill="none" stroke="#161616" stroke-width="0.9" />
<polyline points="385.5,145.2 385.5,164.0" fill="none" stroke="#161616" stroke-width="0.9"/>
<path d="M383.0,108.6 V121.6 Q385.4,123.0 387.8,121.6 V108.6" fill="#fff" stroke="#161616" stroke-width="1.05" />
<polyline points="383.0,110.1 387.8,109.4" fill="none" stroke="#161616" stroke-width="0.8"/>
<polyline points="383.0,112.9 387.8,112.2" fill="none" stroke="#161616" stroke-width="0.8"/>
<polyline points="383.0,115.8 387.8,115.0" fill="none" stroke="#161616" stroke-width="0.8"/>
<polyline points="383.0,118.6 387.8,117.9" fill="none" stroke="#161616" stroke-width="0.8"/>
<polyline points="383.0,121.4 387.8,120.7" fill="none" stroke="#161616" stroke-width="0.8"/>
<ellipse cx="385.4" cy="107.6" rx="5.7" ry="1.9" fill="#fff" stroke="#161616" stroke-width="1.05"/>
<path d="M382.1,103.2 V107.0 Q385.4,109.2 388.7,107.0 V103.2" fill="#fff" stroke="#161616" stroke-width="1.05" />
<ellipse cx="385.4" cy="103.4" rx="3.3" ry="1.9" fill="#fff" stroke="#161616" stroke-width="1.05"/>
<ellipse cx="385.4" cy="103.4" rx="1.6" ry="0.9" fill="#fff" stroke="#161616" stroke-width="0.8"/>
<path d="M370.1,161 L380.9,153.9 L384.5,155.7 V158.7 L373.7,165.4 L370.1,164 Z" fill="#fff" stroke="#161616" stroke-width="1.05" />
<path d="M370.1,161 L373.7,162.4 L384.5,155.7 M373.7,162.4 V165.4" fill="none" stroke="#161616" stroke-width="0.9" />
<path d="M377.3,165.8 L382,162.8 L389.3,161.6 L392.8,164.6 V167.6 L388.1,171.8 H379.7 L377.3,169.4 Z" fill="#fff" stroke="#161616" stroke-width="1.05" />
<path d="M377.3,165.8 L379.7,168.4 H388.1 L392.8,164.6 M388.1,168.4 V171.8 M379.7,168.4 V171.8" fill="none" stroke="#161616" stroke-width="0.9" />
<path d="M385,161.6 V154.6 Q387.4,153.4 389.8,155 V161.6" fill="#fff" stroke="#161616" stroke-width="0.9" />
<ellipse cx="386.0" cy="165.2" rx="2.6" ry="1.4" fill="#fff" stroke="#161616" stroke-width="0.85"/>
<polyline points="385.5,147.0 385.5,164.8" fill="none" stroke="#161616" stroke-width="0.9"/>
<polyline points="385.5,172.6 385.5,207.0 356.0,192.2 355.4,210.0" fill="none" stroke="#161616" stroke-width="0.9"/>
<polygon points="398.7,189.4 403.4,185.8 410.2,187.6 410.2,193.0 405.0,196.6 398.7,194.8" fill="#fff" stroke="#161616" stroke-width="1.05"/>
<polyline points="398.7,189.4 405.0,191.2 410.2,187.6" fill="none" stroke="#161616" stroke-width="0.9"/>
<polyline points="405.0,191.2 405.0,196.6" fill="none" stroke="#161616" stroke-width="0.9"/>
<ellipse cx="416.6" cy="184.6" rx="1.0" ry="3.0" fill="#fff" stroke="#161616" stroke-width="1.2" transform="rotate(-32.347443499442015 416.6 184.6)"/>
<ellipse cx="418.3" cy="183.5" rx="1.0" ry="3.0" fill="#fff" stroke="#161616" stroke-width="1.2" transform="rotate(-32.347443499442015 418.3 183.5)"/>
<ellipse cx="420.0" cy="182.4" rx="1.0" ry="3.0" fill="#fff" stroke="#161616" stroke-width="1.2" transform="rotate(-32.347443499442015 420.0 182.4)"/>
<ellipse cx="421.7" cy="181.3" rx="1.0" ry="3.0" fill="#fff" stroke="#161616" stroke-width="1.2" transform="rotate(-32.347443499442015 421.7 181.3)"/>
<ellipse cx="423.5" cy="180.3" rx="1.0" ry="3.0" fill="#fff" stroke="#161616" stroke-width="1.2" transform="rotate(-32.347443499442015 423.5 180.3)"/>
<ellipse cx="425.2" cy="179.2" rx="1.0" ry="3.0" fill="#fff" stroke="#161616" stroke-width="1.2" transform="rotate(-32.347443499442015 425.2 179.2)"/>
<ellipse cx="426.9" cy="178.1" rx="1.0" ry="3.0" fill="#fff" stroke="#161616" stroke-width="1.2" transform="rotate(-32.347443499442015 426.9 178.1)"/>
<ellipse cx="428.6" cy="177.0" rx="1.0" ry="3.0" fill="#fff" stroke="#161616" stroke-width="1.2" transform="rotate(-32.347443499442015 428.6 177.0)"/>
<path d="M292.4,221 V232.6 Q295,237 301,239.6 Q318,246 328.5,254.5 Q337,260.6 345.5,254.5 Q357,245 375,237 Q380.4,234 380.2,229.6 V221" fill="#fff" stroke="#161616" stroke-width="1.05" />
<path d="M306.3,209.4 L294.2,217.6 Q291.6,219.8 292.8,222.4 Q296,227.6 302,229.6 Q318,235 328.5,243.6 Q337,249.6 345.5,243.6 Q357,234.6 375,227.6 Q380.6,224.6 380,221.4 Q379,218.6 375,216.4 L367,210.4 Z" fill="#fff" stroke="#161616" stroke-width="1.05" />
<polyline points="337.0,248.0 337.0,259.0" fill="none" stroke="#161616" stroke-width="0.85"/>
<ellipse cx="299.0" cy="220.2" rx="2.5" ry="1.6" fill="#fff" stroke="#161616" stroke-width="0.9"/>
<ellipse cx="373.7" cy="220.4" rx="2.5" ry="1.6" fill="#fff" stroke="#161616" stroke-width="0.9"/>
<ellipse cx="335.0" cy="242.6" rx="2.3" ry="1.5" fill="#fff" stroke="#161616" stroke-width="0.9"/>
<ellipse cx="343.3" cy="241.2" rx="1.9" ry="1.3" fill="#fff" stroke="#161616" stroke-width="0.9"/>
<path d="M303.9,211 V221.2 A32,17.2 0 0 0 367.9,221.2 V211" fill="#fff" stroke="#161616" stroke-width="1.2" />
<path d="M304.1,215.2 A32,17.2 0 0 0 367.7,215.2" fill="none" stroke="#161616" stroke-width="1.2" />
<path d="M304.1,217.0 A32,17.2 0 0 0 367.7,217.0" fill="none" stroke="#161616" stroke-width="0.9" />
<path d="M304.1,218.8 A32,17.2 0 0 0 367.7,218.8" fill="none" stroke="#161616" stroke-width="1.3" />
<ellipse cx="335.9" cy="211.2" rx="32.0" ry="17.2" fill="#fff" stroke="#161616" stroke-width="1.3"/>
<ellipse cx="335.9" cy="211.6" rx="29.0" ry="15.2" fill="#fff" stroke="#161616" stroke-width="1.0"/>
<path d="M308.4,216 A28,14.6 0 0 0 363.6,216" fill="none" stroke="#161616" stroke-width="1.0" />
<path d="M309.6,205.6 Q318,199 335.9,198.4 Q345,198.6 350,200.4" fill="none" stroke="#161616" stroke-width="0.9" />
<path d="M314,212 Q318,222.4 336,224 Q352,223.4 358.6,215" fill="none" stroke="#161616" stroke-width="0.9" />
<path d="M329.6,219.6 Q330.6,216 336.8,215.6 Q342.6,216 343.6,219.4 Q342,222.6 336.6,222.8 Q331,222.6 329.6,219.6" fill="#fff" stroke="#161616" stroke-width="0.9" />
<polyline points="327.6,187.0 327.6,220.4" fill="none" stroke="#161616" stroke-width="0.9"/>
<polyline points="335.8,187.4 335.8,221.0" fill="none" stroke="#161616" stroke-width="0.9"/>
<path d="M344.6,207.8 L351,203.4 L355.4,205.4 V209.6 L349,213.6 L344.6,211.6 Z" fill="#fff" stroke="#161616" stroke-width="1.05" />
<path d="M344.6,207.8 L349,209.8 L355.4,205.4 M349,209.8 V213.6" fill="none" stroke="#161616" stroke-width="0.85" />
<path d="M349,213.6 L349.6,217.6 L353.6,219.2" fill="none" stroke="#161616" stroke-width="0.85" />
<ellipse cx="355.6" cy="211.6" rx="3.2" ry="1.9" fill="#fff" stroke="#161616" stroke-width="0.9"/>
<ellipse cx="355.6" cy="211.6" rx="1.5" ry="0.9" fill="#fff" stroke="#161616" stroke-width="0.8"/>
<polyline points="355.6,209.6 355.6,191.6 385.2,207.2" fill="none" stroke="#161616" stroke-width="0.9"/>
<path d="M328,268.2 V272.4 A7.9,3.6 0 0 0 343.8,272.4 V268.2" fill="#fff" stroke="#161616" stroke-width="1.05" />
<ellipse cx="335.9" cy="268.2" rx="7.9" ry="3.6" fill="#fff" stroke="#161616" stroke-width="1.05"/>
<ellipse cx="335.9" cy="268.2" rx="3.4" ry="1.5" fill="#fff" stroke="#161616" stroke-width="0.9"/>
<polyline points="343.8,257.2 343.8,260.5 360.9,270.4 360.9,256.9 381.3,268.0 381.3,275.6" fill="none" stroke="#161616" stroke-width="0.9"/>
<path d="M377.4,291.9 V277.7 Q380.1,276.1 382.8,277.7 V291.9" fill="#fff" stroke="#161616" stroke-width="1.05" />
<polyline points="377.4,279.1 382.8,278.5" fill="none" stroke="#161616" stroke-width="0.8"/>
<polyline points="377.4,282.8 382.8,282.2" fill="none" stroke="#161616" stroke-width="0.8"/>
<polyline points="377.4,286.4 382.8,285.8" fill="none" stroke="#161616" stroke-width="0.8"/>
<polyline points="377.4,290.1 382.8,289.5" fill="none" stroke="#161616" stroke-width="0.8"/>
<path d="M374.3,293.8 V296.9 A5.8,2.9 0 0 0 385.9,296.9 V293.8" fill="#fff" stroke="#161616" stroke-width="1.05" />
<ellipse cx="380.1" cy="293.8" rx="5.8" ry="2.9" fill="#fff" stroke="#161616" stroke-width="1.05"/>
<path d="M377.4,292.8 A2.7,1.35 0 0 0 382.8,292.8" fill="none" stroke="#161616" stroke-width="0.8" />
<ellipse cx="334.0" cy="311.8" rx="26.3" ry="14.9" fill="none" stroke="#161616" stroke-width="1.9"/>
<path d="M306.7,345.7 V349.4 Q309,358 322,363.6 Q334.4,367.6 347,364 Q358,360.4 361.3,355.6 V351.6" fill="#fff" stroke="#161616" stroke-width="1.05" />
<path d="M306.7,345.7 Q307.6,339.6 313,334.6 Q318,330.2 324.3,329 L360,348.7 Q362,350.6 360.6,352.6 Q356,358.6 346,361.2 Q334.4,363.8 322,360.2 Q309,355 306.7,345.7 Z" fill="#fff" stroke="#161616" stroke-width="1.05" />
<path d="M308.6,344.8 Q313,346.6 318.3,346.8 H333.5 Q342,347.6 346.7,350.4 L348.2,353.6" fill="none" stroke="#161616" stroke-width="1.5" />
<path d="M312,350 Q315,349.2 320,349.4 L333.5,349.8 Q340,350.6 344.7,354" fill="none" stroke="#161616" stroke-width="0.9" />
<path d="M313.2,353.4 Q320,358.6 330.5,359.8 Q341,360 347.6,356.6 L348.2,353.6 M313.2,353.4 L312,350" fill="none" stroke="#161616" stroke-width="0.9" />
<path d="M317,352.6 Q324,351 333,351.6 Q339,352.4 343,354.6" fill="none" stroke="#161616" stroke-width="0.8" />
<path d="M317.3,332.6 L348.7,351.4 M321.6,330.6 L356.4,350.2 M308.6,344.8 L324.4,333.6 M318.6,346.6 L331,338 M333.6,346.6 L342,341.4 M346.7,350.4 L353,346" fill="none" stroke="#161616" stroke-width="0.85" />
<polygon points="319.7,330.6 325.0,333.5 327.1,332.0 321.8,329.1" fill="#262626" stroke="#161616" stroke-width="0.6"/>
<polygon points="321.5,330.8 324.4,332.4 325.3,331.8 322.4,330.2" fill="#8a8a8a" stroke="#161616" stroke-width="0.6"/>
<polygon points="326.4,335.6 334.1,339.8 337.6,337.2 329.9,333.0" fill="#262626" stroke="#161616" stroke-width="0.6"/>
<polygon points="329.2,335.7 333.4,338.1 334.8,337.1 330.6,334.7" fill="#8a8a8a" stroke="#161616" stroke-width="0.6"/>
<polygon points="318.7,340.1 323.4,342.7 326.3,340.7 321.6,338.1" fill="#262626" stroke="#161616" stroke-width="0.6"/>
<polygon points="320.6,340.1 323.2,341.5 324.4,340.7 321.8,339.3" fill="#8a8a8a" stroke="#161616" stroke-width="0.6"/>
<polygon points="309.5,345.1 313.7,347.4 315.9,345.9 311.7,343.6" fill="#262626" stroke="#161616" stroke-width="0.6"/>
<polygon points="311.1,345.2 313.4,346.4 314.3,345.8 312.0,344.6" fill="#8a8a8a" stroke="#161616" stroke-width="0.6"/>
<polygon points="325.5,343.0 328.9,344.9 330.7,343.6 327.3,341.7" fill="#262626" stroke="#161616" stroke-width="0.6"/>
<polygon points="326.8,343.1 328.7,344.1 329.4,343.5 327.5,342.5" fill="#8a8a8a" stroke="#161616" stroke-width="0.6"/>
<polygon points="342.7,344.1 348.5,347.3 351.7,344.9 345.9,341.7" fill="#262626" stroke="#161616" stroke-width="0.6"/>
<polygon points="345.0,344.1 348.1,345.8 349.4,344.9 346.3,343.2" fill="#8a8a8a" stroke="#161616" stroke-width="0.6"/>
<polygon points="350.8,349.0 356.6,352.2 359.8,349.8 354.0,346.6" fill="#262626" stroke="#161616" stroke-width="0.6"/>
<polygon points="353.1,349.0 356.2,350.7 357.5,349.8 354.4,348.1" fill="#8a8a8a" stroke="#161616" stroke-width="0.6"/>
<ellipse cx="336.0" cy="343.3" rx="3.6" ry="2.0" fill="#fff" stroke="#161616" stroke-width="0.9"/>
<path d="M330.5,357.6 L334.5,356.4 L335,358.6 L331.4,359.6 Z" fill="#333" stroke="#161616" stroke-width="0.6" />
<path d="M331.4,374.4 V379.6 Q336.8,383 342.2,379.6 V374.4" fill="#fff" stroke="#161616" stroke-width="1.05" />
<ellipse cx="336.8" cy="374.4" rx="5.4" ry="2.8" fill="#fff" stroke="#161616" stroke-width="1.05"/>
<path d="M333,375.8 L340.6,373" fill="none" stroke="#161616" stroke-width="1.6" />
<path d="M335,381.6 V386.4 Q336.8,387.4 338.6,386.4 V381.6" fill="#fff" stroke="#161616" stroke-width="1.05" />
<polyline points="336.8,388.0 336.8,406.6" fill="none" stroke="#161616" stroke-width="0.9"/>
<path d="M307.6,414 V418.4 Q310,426 322,429.6 Q332.3,431.8 344,430.4 Q352.6,429 354,426.6 L355.2,422 L361.4,418 V414.1" fill="#fff" stroke="#161616" stroke-width="1.05" />
<path d="M307.6,414 Q307.4,406 312,400.4 Q319,393.6 329.3,392.4 L361.4,414.1 L355.4,418 Q352.6,424 344,425.8 Q332.3,427.4 322,425 Q310,421.6 307.6,414 Z" fill="#fff" stroke="#161616" stroke-width="1.05" />
<path d="M315.2,409.0 V414.2 A6,3.2 0 0 0 327.2,414.2 V409.0" fill="#fff" stroke="#161616" stroke-width="1.05" />
<ellipse cx="321.2" cy="409.0" rx="6.0" ry="3.2" fill="#fff" stroke="#161616" stroke-width="1.05"/>
<path d="M339.8,412.0 V417.2 A6.2,3.3 0 0 0 352.2,417.2 V412.0" fill="#fff" stroke="#161616" stroke-width="1.05" />
<ellipse cx="346.0" cy="412.0" rx="6.2" ry="3.3" fill="#fff" stroke="#161616" stroke-width="1.05"/>
<path d="M327.4,410.4 L333.6,409.4 L339.8,411 V417 L333.6,418.6 L327.4,417 Z" fill="#fff" stroke="#161616" stroke-width="1.05" />
<path d="M327.4,410.4 L333.6,412 L339.8,411 M333.6,412 V418.6" fill="none" stroke="#161616" stroke-width="0.85" />
<ellipse cx="336.8" cy="407.0" rx="2.6" ry="1.4" fill="#fff" stroke="#161616" stroke-width="0.9"/>
<ellipse cx="331.8" cy="400.6" rx="1.5" ry="0.9" fill="#fff" stroke="#161616" stroke-width="0.8"/>
<ellipse cx="313.6" cy="408.4" rx="1.5" ry="0.9" fill="#fff" stroke="#161616" stroke-width="0.8"/>
<ellipse cx="326.4" cy="420.6" rx="1.5" ry="0.9" fill="#fff" stroke="#161616" stroke-width="0.8"/>
<ellipse cx="332.6" cy="421.6" rx="1.5" ry="0.9" fill="#fff" stroke="#161616" stroke-width="0.8"/>
<ellipse cx="354.6" cy="412.6" rx="1.5" ry="0.9" fill="#fff" stroke="#161616" stroke-width="0.8"/>
<polyline points="337.4,400.4 353.3,410.4 353.3,402.4 382.9,419.2 382.9,412.6" fill="none" stroke="#161616" stroke-width="0.9"/>
<path d="M381.0,400.2 V411.8 Q383.1,413.2 385.2,411.8 V400.2" fill="#fff" stroke="#161616" stroke-width="1.05" />
<polyline points="381.0,402.4 385.2,401.8" fill="none" stroke="#161616" stroke-width="0.8"/>
<polyline points="381.0,405.3 385.2,404.7" fill="none" stroke="#161616" stroke-width="0.8"/>
<polyline points="381.0,408.3 385.2,407.7" fill="none" stroke="#161616" stroke-width="0.8"/>
<polyline points="381.0,411.2 385.2,410.6" fill="none" stroke="#161616" stroke-width="0.8"/>
<path d="M379.2,396.0 V398.7 Q383.1,402.4 387.0,398.7 V396.0" fill="#fff" stroke="#161616" stroke-width="1.05" />
<ellipse cx="383.1" cy="396.2" rx="3.9" ry="2.4" fill="#fff" stroke="#161616" stroke-width="1.05"/>
<ellipse cx="383.1" cy="396.3" rx="2.1" ry="1.2" fill="#fff" stroke="#161616" stroke-width="0.9"/>
<ellipse cx="277.4" cy="413.0" rx="2.3" ry="1.0" fill="#fff" stroke="#161616" stroke-width="1.0"/>
<ellipse cx="277.4" cy="414.5" rx="2.3" ry="1.0" fill="#fff" stroke="#161616" stroke-width="1.0"/>
<ellipse cx="277.4" cy="416.0" rx="2.3" ry="1.0" fill="#fff" stroke="#161616" stroke-width="1.0"/>
<ellipse cx="277.4" cy="417.5" rx="2.3" ry="1.0" fill="#fff" stroke="#161616" stroke-width="1.0"/>
<ellipse cx="277.4" cy="419.0" rx="2.3" ry="1.0" fill="#fff" stroke="#161616" stroke-width="1.0"/>
<ellipse cx="277.4" cy="420.5" rx="2.3" ry="1.0" fill="#fff" stroke="#161616" stroke-width="1.0"/>
<rect x="275.3" y="412.2" width="4.2" height="8.8" rx="1" fill="#222" opacity="0.75"/>
<path d="M276,436 V428 Q277.5,426.6 279,428 V436" fill="#fff" stroke="#161616" stroke-width="1.05" />
<ellipse cx="277.4" cy="437.3" rx="3.4" ry="2.2" fill="#fff" stroke="#161616" stroke-width="1.05"/>
<polyline points="275.4,437.6 279.4,436.8" fill="none" stroke="#161616" stroke-width="0.9"/>
<ellipse cx="277.5" cy="449.6" rx="2.2" ry="2.2" fill="#fff" stroke="#161616" stroke-width="1.0"/>
<ellipse cx="277.5" cy="478.7" rx="2.7" ry="1.7" fill="#fff" stroke="#161616" stroke-width="1.0"/>
<path d="M272.4,459 V462 Q273,463.6 274.4,464 V469.6 Q272.6,470 272.4,471.6 V473 Q277.4,477 282.5,473 V471.6 Q282.3,470 280.6,469.6 V464 Q282,463.6 282.5,462 V459" fill="#fff" stroke="#161616" stroke-width="1.05" />
<ellipse cx="277.5" cy="459.0" rx="5.2" ry="2.8" fill="#fff" stroke="#161616" stroke-width="1.05"/>
<ellipse cx="277.5" cy="459.2" rx="3.0" ry="1.5" fill="#666" stroke="#161616" stroke-width="0.85"/>
<path d="M272.4,462 Q277.5,465.6 282.5,462 M272.4,471.4 Q277.5,475.2 282.5,471.4" fill="none" stroke="#161616" stroke-width="0.9" />
<ellipse cx="321.6" cy="436.1" rx="2.2" ry="2.2" fill="#fff" stroke="#161616" stroke-width="1.0"/>
<ellipse cx="346.8" cy="436.1" rx="2.2" ry="2.2" fill="#fff" stroke="#161616" stroke-width="1.0"/>
<path d="M316.3,446.6 V449.6 Q321.9,454.6 327.5,449.6 V446.6" fill="#fff" stroke="#161616" stroke-width="1.05" />
<ellipse cx="321.9" cy="446.6" rx="5.6" ry="2.7" fill="#fff" stroke="#161616" stroke-width="1.05"/>
<path d="M316.3,448.2 Q321.9,452.6 327.5,448.2" fill="none" stroke="#161616" stroke-width="0.85" />
<path d="M318.5,445.8 V442.6 Q321.9,440 325.3,442.6 V445.8" fill="#fff" stroke="#161616" stroke-width="1.05" />
<ellipse cx="321.9" cy="442.6" rx="3.4" ry="1.6" fill="#555" stroke="#161616" stroke-width="0.9"/>
<path d="M318.5,444.4 Q321.9,446.4 325.3,444.4" fill="none" stroke="#161616" stroke-width="0.85" />
<path d="M341.7,446.6 V449.6 Q347.3,454.6 352.9,449.6 V446.6" fill="#fff" stroke="#161616" stroke-width="1.05" />
<ellipse cx="347.3" cy="446.6" rx="5.6" ry="2.7" fill="#fff" stroke="#161616" stroke-width="1.05"/>
<path d="M341.7,448.2 Q347.3,452.6 352.9,448.2" fill="none" stroke="#161616" stroke-width="0.85" />
<path d="M343.9,445.8 V442.6 Q347.3,440 350.7,442.6 V445.8" fill="#fff" stroke="#161616" stroke-width="1.05" />
<ellipse cx="347.3" cy="442.6" rx="3.4" ry="1.6" fill="#555" stroke="#161616" stroke-width="0.9"/>
<path d="M343.9,444.4 Q347.3,446.4 350.7,444.4" fill="none" stroke="#161616" stroke-width="0.85" />
<ellipse cx="322.3" cy="459.5" rx="5.2" ry="2.7" fill="#fff" stroke="#161616" stroke-width="1.5"/>
<ellipse cx="347.2" cy="459.5" rx="5.2" ry="2.7" fill="#fff" stroke="#161616" stroke-width="1.5"/>
<path d="M316.8,468.6 V476.4 Q322.2,481.6 327.6,476.4 V468.6" fill="#fff" stroke="#161616" stroke-width="1.05" />
<ellipse cx="322.2" cy="468.6" rx="5.4" ry="2.8" fill="#fff" stroke="#161616" stroke-width="1.05"/>
<ellipse cx="322.2" cy="468.4" rx="3.4" ry="1.6" fill="#fff" stroke="#161616" stroke-width="0.9"/>
<ellipse cx="322.2" cy="468.6" rx="1.6" ry="0.8" fill="#555" stroke="#161616" stroke-width="0.8"/>
<path d="M316.8,473.4 Q322.2,478 327.6,473.4" fill="none" stroke="#161616" stroke-width="0.85" />
<path d="M341.8,468.6 V476.4 Q347.2,481.6 352.6,476.4 V468.6" fill="#fff" stroke="#161616" stroke-width="1.05" />
<ellipse cx="347.2" cy="468.6" rx="5.4" ry="2.8" fill="#fff" stroke="#161616" stroke-width="1.05"/>
<ellipse cx="347.2" cy="468.4" rx="3.4" ry="1.6" fill="#fff" stroke="#161616" stroke-width="0.9"/>
<ellipse cx="347.2" cy="468.6" rx="1.6" ry="0.8" fill="#555" stroke="#161616" stroke-width="0.8"/>
<path d="M341.8,473.4 Q347.2,478 352.6,473.4" fill="none" stroke="#161616" stroke-width="0.85" />
<polyline points="322.2,480.0 322.2,484.4" fill="none" stroke="#161616" stroke-width="0.9"/>
<ellipse cx="324.4" cy="486.4" rx="2.2" ry="2.2" fill="#fff" stroke="#161616" stroke-width="0.95"/>
<ellipse cx="343.0" cy="482.4" rx="2.2" ry="2.2" fill="#fff" stroke="#161616" stroke-width="0.95"/>
<path d="M296.1,533.6 Q290.4,535.6 290.2,541 Q290.6,545.4 293.4,548 L305.6,561.4 Q308,563.6 313.6,563 L306,552 L304.6,541 Z" fill="#fff" stroke="#161616" stroke-width="1.15" />
<path d="M299.1,548.9 L311.2,563" fill="none" stroke="#161616" stroke-width="0.9" />
<path d="M299.5,518 V534.6 Q303.5,536 304.2,541 Q304.6,546 301.5,547.6" fill="#fff" stroke="#161616" stroke-width="1.05" />
<ellipse cx="301.1" cy="543.5" rx="2.1" ry="2.0" fill="#fff" stroke="#161616" stroke-width="0.95"/>
<path d="M299.5,519 V535 L306.5,541 V552.6 Q309,556 313.9,558.3 L318.6,553.6 L329.3,564.3 L344.6,571.9 Q352,575 356.6,569 Q358.8,565 357.6,561.4 Q361,556 365.6,553.6 V525 L340,539 Z" fill="#fff" stroke="#161616" stroke-width="1.05" />
<path d="M306.5,523 V552.6 M309.4,525.4 V549 M317.2,530.6 V546.9 Q317.4,551 318.6,553.6" fill="none" stroke="#161616" stroke-width="0.9" />
<path d="M309.4,538 Q313,540 317.2,538" fill="none" stroke="#161616" stroke-width="0.8" />
<path d="M322.6,548.4 L333.4,549 M342.8,550.2 Q349,552 352.6,557.6 M342.8,550.2 Q350,549.6 355.6,546.4" fill="none" stroke="#161616" stroke-width="0.9" />
<path d="M365.6,553.6 Q366,551 366.3,549" fill="none" stroke="#161616" stroke-width="0.9" />
<ellipse cx="350.8" cy="566.3" rx="6.0" ry="7.4" fill="#fff" stroke="#161616" stroke-width="1.05" transform="rotate(-20 350.8 566.3)"/>
<ellipse cx="350.9" cy="566.3" rx="3.0" ry="3.9" fill="#fff" stroke="#161616" stroke-width="0.95" transform="rotate(-20 350.9 566.3)"/>
<ellipse cx="360.9" cy="558.3" rx="1.7" ry="2.0" fill="#fff" stroke="#161616" stroke-width="0.9" transform="rotate(-20 360.9 558.3)"/>
<path d="M313.9,558.3 L319.3,554.7 L328,559.6 L328.7,565 L324,568.4 L321.9,569.7 L313.9,563 Z" fill="#fff" stroke="#161616" stroke-width="1.05" />
<path d="M313.9,558.3 L323.3,563.7 L328,559.6 M323.3,563.7 L324,568.4" fill="none" stroke="#161616" stroke-width="0.9" />
<ellipse cx="319.2" cy="564.6" rx="1.9" ry="2.2" fill="#fff" stroke="#161616" stroke-width="0.85" transform="rotate(-25 319.2 564.6)"/>
<ellipse cx="312.6" cy="560.6" rx="1.4" ry="1.8" fill="#fff" stroke="#161616" stroke-width="0.85" transform="rotate(-25 312.6 560.6)"/>
<path d="M295.2,512.6 V518.4 Q295.6,521 298,522.6 L335.6,544.4 Q339.2,546.4 343,544.4 L378,523.8 Q380.6,522 380.6,519 V512" fill="#fff" stroke="#161616" stroke-width="1.05" />
<path d="M297.4,509.6 L331.6,488.6 Q335.9,486.4 340.2,488.6 L378.4,508.4 Q382.6,511.6 378.6,515 L343.6,536.2 Q339.2,538.6 334.8,536.2 L297.6,516.2 Q293,512.8 297.4,509.6 Z" fill="#fff" stroke="#161616" stroke-width="1.05" />
<ellipse cx="338.8" cy="511.4" rx="29.2" ry="16.4" fill="#fff" stroke="#161616" stroke-width="1.05"/>
<path d="M312.6,516 Q311,505 320,498.6 Q330,492.6 345,493.6" fill="none" stroke="#161616" stroke-width="0.9" />
<path d="M312.6,503 V519.6 M316,500 V522.6" fill="none" stroke="#161616" stroke-width="0.9" />
<path d="M329.6,500 V509 M333.4,501.6 L361.6,517.4 M336,499.4 L342.4,500.2 M345,506 L358,513.6 M366.8,508 V517" fill="none" stroke="#161616" stroke-width="0.9" />
<path d="M329.6,500 Q338,496.4 349,498.6 Q360,502 366.8,510" fill="none" stroke="#161616" stroke-width="0.9" />
<ellipse cx="301.0" cy="511.5" rx="2.6" ry="1.6" fill="#fff" stroke="#161616" stroke-width="0.9"/>
<ellipse cx="337.2" cy="491.4" rx="2.6" ry="1.6" fill="#fff" stroke="#161616" stroke-width="0.9"/>
<ellipse cx="373.7" cy="512.0" rx="2.6" ry="1.6" fill="#fff" stroke="#161616" stroke-width="0.9"/>
<ellipse cx="337.2" cy="530.8" rx="2.6" ry="1.6" fill="#fff" stroke="#161616" stroke-width="0.9"/>
<ellipse cx="329.5" cy="514.0" rx="1.5" ry="1.0" fill="#fff" stroke="#161616" stroke-width="0.8"/>
<ellipse cx="332.5" cy="518.6" rx="1.5" ry="1.0" fill="#fff" stroke="#161616" stroke-width="0.8"/>
<ellipse cx="337.0" cy="526.4" rx="1.5" ry="1.0" fill="#fff" stroke="#161616" stroke-width="0.8"/>
<path d="M335,528.6 Q337.6,526.2 340.6,528 M335.2,531.6 H340.4" fill="none" stroke="#161616" stroke-width="0.9" />
<polyline points="322.6,488.6 322.6,524.8" fill="none" stroke="#161616" stroke-width="0.9"/>
<polyline points="325.8,488.6 325.8,524.8" fill="none" stroke="#161616" stroke-width="0.9"/>
<polyline points="342.2,484.6 342.2,530.0" fill="none" stroke="#161616" stroke-width="0.9"/>
<polyline points="346.0,484.6 346.0,530.0" fill="none" stroke="#161616" stroke-width="0.9"/>
<polyline points="366.3,549.0 378.9,554.0 408.2,537.7 417.7,542.7" fill="none" stroke="#161616" stroke-width="0.9"/>
<polyline points="353.5,566.3 414.0,600.6" fill="none" stroke="#161616" stroke-width="0.9"/>
<polyline points="329.3,566.3 377.6,594.2" fill="none" stroke="#161616" stroke-width="0.9"/>
<polyline points="299.8,545.5 250.6,575.3 256.5,579.8" fill="none" stroke="#161616" stroke-width="0.9"/>
<ellipse cx="297.6" cy="578.0" rx="1.9" ry="4.4" fill="#fff" stroke="#161616" stroke-width="1.15" transform="rotate(-31.701429669506172 297.6 578.0)"/>
<ellipse cx="299.3" cy="577.0" rx="1.9" ry="4.4" fill="#fff" stroke="#161616" stroke-width="1.15" transform="rotate(-31.701429669506172 299.3 577.0)"/>
<ellipse cx="301.0" cy="575.9" rx="1.9" ry="4.4" fill="#fff" stroke="#161616" stroke-width="1.15" transform="rotate(-31.701429669506172 301.0 575.9)"/>
<ellipse cx="302.7" cy="574.8" rx="1.9" ry="4.4" fill="#fff" stroke="#161616" stroke-width="1.15" transform="rotate(-31.701429669506172 302.7 574.8)"/>
<ellipse cx="304.4" cy="573.8" rx="1.9" ry="4.4" fill="#fff" stroke="#161616" stroke-width="1.15" transform="rotate(-31.701429669506172 304.4 573.8)"/>
<polyline points="317.9,567.0 308.5,572.6" fill="none" stroke="#161616" stroke-width="0.9"/>
<ellipse cx="376.2" cy="564.6" rx="1.9" ry="4.4" fill="#fff" stroke="#161616" stroke-width="1.15" transform="rotate(35.21759296819241 376.2 564.6)"/>
<ellipse cx="377.9" cy="565.8" rx="1.9" ry="4.4" fill="#fff" stroke="#161616" stroke-width="1.15" transform="rotate(35.21759296819241 377.9 565.8)"/>
<ellipse cx="379.6" cy="567.0" rx="1.9" ry="4.4" fill="#fff" stroke="#161616" stroke-width="1.15" transform="rotate(35.21759296819241 379.6 567.0)"/>
<ellipse cx="381.3" cy="568.2" rx="1.9" ry="4.4" fill="#fff" stroke="#161616" stroke-width="1.15" transform="rotate(35.21759296819241 381.3 568.2)"/>
<ellipse cx="383.0" cy="569.4" rx="1.9" ry="4.4" fill="#fff" stroke="#161616" stroke-width="1.15" transform="rotate(35.21759296819241 383.0 569.4)"/>
<polyline points="362.4,559.4 372.2,564.4" fill="none" stroke="#161616" stroke-width="0.9"/>
<polyline points="182.7,457.2 243.4,492.0" fill="none" stroke="#161616" stroke-width="1.05"/>
<ellipse cx="246.7" cy="493.3" rx="2.1" ry="2.3" fill="#fff" stroke="#161616" stroke-width="2.1" transform="rotate(-20 246.7 493.3)"/>
<path d="M255.6,494.6 L263.6,499 Q265.6,500.6 264.8,503 Q263.6,505.2 261.2,504.4 L253.6,500.6 Z" fill="#fff" stroke="#161616" stroke-width="1.05" />
<ellipse cx="254.7" cy="498.4" rx="3.2" ry="4.4" fill="#fff" stroke="#161616" stroke-width="1.3" transform="rotate(-28 254.7 498.4)"/>
<ellipse cx="255.1" cy="498.7" rx="1.9" ry="2.8" fill="#fff" stroke="#161616" stroke-width="0.9" transform="rotate(-28 255.1 498.7)"/>
<ellipse cx="263.0" cy="501.8" rx="1.7" ry="2.5" fill="#fff" stroke="#161616" stroke-width="0.9" transform="rotate(-28 263.0 501.8)"/>
<ellipse cx="269.1" cy="506.1" rx="2.1" ry="3.3" fill="#fff" stroke="#161616" stroke-width="1.1" transform="rotate(25 269.1 506.1)"/>
<ellipse cx="277.4" cy="511.1" rx="2.1" ry="2.3" fill="#fff" stroke="#161616" stroke-width="2.1" transform="rotate(-20 277.4 511.1)"/>
<polyline points="281.7,513.3 293.3,520.0" fill="none" stroke="#161616" stroke-width="0.9"/>
<path d="M277.5,480.6 V487 Q277.6,488.6 279,489.4 L317.6,512.1" fill="none" stroke="#161616" stroke-width="0.9" />
<polygon points="259.5,585.5 261.7,581.7 276.3,590.6 274.0,594.4" fill="#fff" stroke="#161616" stroke-width="1.05"/>
<ellipse cx="261.5" cy="584.2" rx="0.9" ry="2.2" fill="none" stroke="#161616" stroke-width="0.8" transform="rotate(31.429565614838516 261.5 584.2)"/>
<ellipse cx="263.4" cy="585.3" rx="0.9" ry="2.2" fill="none" stroke="#161616" stroke-width="0.8" transform="rotate(31.429565614838516 263.4 585.3)"/>
<ellipse cx="265.3" cy="586.4" rx="0.9" ry="2.2" fill="none" stroke="#161616" stroke-width="0.8" transform="rotate(31.429565614838516 265.3 586.4)"/>
<ellipse cx="267.1" cy="587.6" rx="0.9" ry="2.2" fill="none" stroke="#161616" stroke-width="0.8" transform="rotate(31.429565614838516 267.1 587.6)"/>
<ellipse cx="269.0" cy="588.7" rx="0.9" ry="2.2" fill="none" stroke="#161616" stroke-width="0.8" transform="rotate(31.429565614838516 269.0 588.7)"/>
<ellipse cx="270.8" cy="589.9" rx="0.9" ry="2.2" fill="none" stroke="#161616" stroke-width="0.8" transform="rotate(31.429565614838516 270.8 589.9)"/>
<ellipse cx="276.0" cy="593.0" rx="2.6" ry="5.2" fill="#fff" stroke="#161616" stroke-width="1.05" transform="rotate(31.429565614838516 276.0 593.0)"/>
<ellipse cx="278.6" cy="594.6" rx="2.9" ry="4.3" fill="#fff" stroke="#161616" stroke-width="1.05" transform="rotate(31.429565614838516 278.6 594.6)"/>
<ellipse cx="280.0" cy="595.4" rx="2.3" ry="3.6" fill="#fff" stroke="#161616" stroke-width="1.05" transform="rotate(31.429565614838516 280.0 595.4)"/>
<ellipse cx="280.1" cy="595.5" rx="1.0" ry="1.7" fill="#fff" stroke="#161616" stroke-width="0.8" transform="rotate(31.429565614838516 280.1 595.5)"/>
<polygon points="377.1,597.5 379.3,593.7 393.3,602.2 391.0,606.0" fill="#fff" stroke="#161616" stroke-width="1.05"/>
<ellipse cx="379.1" cy="596.1" rx="0.9" ry="2.2" fill="none" stroke="#161616" stroke-width="0.8" transform="rotate(31.349580865243016 379.1 596.1)"/>
<ellipse cx="380.8" cy="597.2" rx="0.9" ry="2.2" fill="none" stroke="#161616" stroke-width="0.8" transform="rotate(31.349580865243016 380.8 597.2)"/>
<ellipse cx="382.6" cy="598.3" rx="0.9" ry="2.2" fill="none" stroke="#161616" stroke-width="0.8" transform="rotate(31.349580865243016 382.6 598.3)"/>
<ellipse cx="384.4" cy="599.4" rx="0.9" ry="2.2" fill="none" stroke="#161616" stroke-width="0.8" transform="rotate(31.349580865243016 384.4 599.4)"/>
<ellipse cx="386.1" cy="600.4" rx="0.9" ry="2.2" fill="none" stroke="#161616" stroke-width="0.8" transform="rotate(31.349580865243016 386.1 600.4)"/>
<ellipse cx="387.9" cy="601.5" rx="0.9" ry="2.2" fill="none" stroke="#161616" stroke-width="0.8" transform="rotate(31.349580865243016 387.9 601.5)"/>
<ellipse cx="393.0" cy="604.6" rx="2.6" ry="5.2" fill="#fff" stroke="#161616" stroke-width="1.05" transform="rotate(31.349580865243016 393.0 604.6)"/>
<ellipse cx="395.6" cy="606.2" rx="2.9" ry="4.3" fill="#fff" stroke="#161616" stroke-width="1.05" transform="rotate(31.349580865243016 395.6 606.2)"/>
<ellipse cx="397.0" cy="607.0" rx="2.3" ry="3.6" fill="#fff" stroke="#161616" stroke-width="1.05" transform="rotate(31.349580865243016 397.0 607.0)"/>
<ellipse cx="397.1" cy="607.1" rx="1.0" ry="1.7" fill="#fff" stroke="#161616" stroke-width="0.8" transform="rotate(31.349580865243016 397.1 607.1)"/>
<polygon points="418.0,545.4 420.0,541.8 463.6,566.4 461.6,570.0" fill="#fff" stroke="#161616" stroke-width="1.05"/>
<ellipse cx="419.9" cy="544.1" rx="0.9" ry="2.1" fill="none" stroke="#161616" stroke-width="0.8" transform="rotate(29.43256844631618 419.9 544.1)"/>
<ellipse cx="421.9" cy="545.2" rx="0.9" ry="2.1" fill="none" stroke="#161616" stroke-width="0.8" transform="rotate(29.43256844631618 421.9 545.2)"/>
<ellipse cx="423.9" cy="546.4" rx="0.9" ry="2.1" fill="none" stroke="#161616" stroke-width="0.8" transform="rotate(29.43256844631618 423.9 546.4)"/>
<ellipse cx="425.9" cy="547.5" rx="0.9" ry="2.1" fill="none" stroke="#161616" stroke-width="0.8" transform="rotate(29.43256844631618 425.9 547.5)"/>
<ellipse cx="427.9" cy="548.6" rx="0.9" ry="2.1" fill="none" stroke="#161616" stroke-width="0.8" transform="rotate(29.43256844631618 427.9 548.6)"/>
<ellipse cx="429.9" cy="549.7" rx="0.9" ry="2.1" fill="none" stroke="#161616" stroke-width="0.8" transform="rotate(29.43256844631618 429.9 549.7)"/>
<ellipse cx="463.6" cy="568.8" rx="3.0" ry="5.9" fill="#fff" stroke="#161616" stroke-width="1.05" transform="rotate(29.43256844631618 463.6 568.8)"/>
<ellipse cx="466.0" cy="570.0" rx="3.0" ry="4.6" fill="#fff" stroke="#161616" stroke-width="1.05" transform="rotate(29.43256844631618 466.0 570.0)"/>
<ellipse cx="467.6" cy="570.9" rx="2.5" ry="3.9" fill="#fff" stroke="#161616" stroke-width="1.05" transform="rotate(29.43256844631618 467.6 570.9)"/>
<ellipse cx="467.8" cy="571.0" rx="1.1" ry="1.8" fill="#fff" stroke="#161616" stroke-width="0.8" transform="rotate(29.43256844631618 467.8 571.0)"/>
<ellipse cx="416.9" cy="602.8" rx="2.8" ry="4.1" fill="#fff" stroke="#161616" stroke-width="2.0" transform="rotate(28 416.9 602.8)"/>
<ellipse cx="429.0" cy="609.8" rx="2.3" ry="4.2" fill="#fff" stroke="#161616" stroke-width="0.95" transform="rotate(28 429.0 609.8)"/>
<polygon points="433.7,616.4 437.5,610.4 449.3,617.9 445.5,624.0" fill="#fff" stroke="#161616" stroke-width="1.05"/>
<ellipse cx="447.4" cy="620.9" rx="2.0" ry="3.6" fill="#fff" stroke="#161616" stroke-width="1.05" transform="rotate(32.49657810199779 447.4 620.9)"/>
<ellipse cx="435.6" cy="613.4" rx="2.0" ry="3.6" fill="#fff" stroke="#161616" stroke-width="1.05" transform="rotate(32.49657810199779 435.6 613.4)"/>
<ellipse cx="440.7" cy="616.6" rx="2.0" ry="3.6" fill="none" stroke="#161616" stroke-width="0.85" transform="rotate(32.49657810199779 440.7 616.6)"/>
<polygon points="444.6,625.3 450.2,616.5 461.2,623.5 455.6,632.3" fill="#fff" stroke="#161616" stroke-width="1.05"/>
<ellipse cx="458.4" cy="627.9" rx="2.9" ry="5.2" fill="#fff" stroke="#161616" stroke-width="1.05" transform="rotate(32.49657810199779 458.4 627.9)"/>
<ellipse cx="448.7" cy="621.7" rx="2.9" ry="5.2" fill="none" stroke="#161616" stroke-width="0.85" transform="rotate(32.49657810199779 448.7 621.7)"/>
<ellipse cx="450.1" cy="622.6" rx="2.9" ry="5.2" fill="none" stroke="#161616" stroke-width="0.85" transform="rotate(32.49657810199779 450.1 622.6)"/>
<ellipse cx="451.5" cy="623.6" rx="2.9" ry="5.2" fill="none" stroke="#161616" stroke-width="0.85" transform="rotate(32.49657810199779 451.5 623.6)"/>
<ellipse cx="453.0" cy="624.5" rx="2.9" ry="5.2" fill="none" stroke="#161616" stroke-width="0.85" transform="rotate(32.49657810199779 453.0 624.5)"/>
<ellipse cx="454.4" cy="625.4" rx="2.9" ry="5.2" fill="none" stroke="#161616" stroke-width="0.85" transform="rotate(32.49657810199779 454.4 625.4)"/>
<ellipse cx="447.4" cy="620.9" rx="2.9" ry="5.2" fill="#fff" stroke="#161616" stroke-width="1.05" transform="rotate(32.49657810199779 447.4 620.9)"/>
<polygon points="456.3,631.2 460.5,624.6 464.3,627.0 460.1,633.6" fill="#fff" stroke="#161616" stroke-width="1.05"/>
<ellipse cx="462.2" cy="630.3" rx="2.1" ry="3.9" fill="#fff" stroke="#161616" stroke-width="1.05" transform="rotate(32.49657810199779 462.2 630.3)"/>
<ellipse cx="458.4" cy="627.9" rx="2.1" ry="3.9" fill="#fff" stroke="#161616" stroke-width="0.9" transform="rotate(32.49657810199779 458.4 627.9)"/>
<ellipse cx="462.4" cy="630.5" rx="1.1" ry="2.0" fill="#fff" stroke="#161616" stroke-width="0.85" transform="rotate(32.49657810199779 462.4 630.5)"/>
<ellipse cx="471.8" cy="634.6" rx="3.7" ry="5.6" fill="#fff" stroke="#161616" stroke-width="1.2" transform="rotate(25 471.8 634.6)"/>
<path d="M487.4,635.4 Q483.6,633 480.8,637.4 Q478.6,642.6 481.2,646.4 Q484,648.6 487,645.6 Q489.4,641.6 488.6,638.4 M487.4,635.4 L486.2,637 Q484,635.6 482.2,638.6 Q480.8,642.4 482.4,645 Q484.2,646.4 486,644.2 Q487.6,641.6 487.2,639.4 L488.6,638.4" fill="none" stroke="#161616" stroke-width="1.0" />
</g>
</svg></body></html>
